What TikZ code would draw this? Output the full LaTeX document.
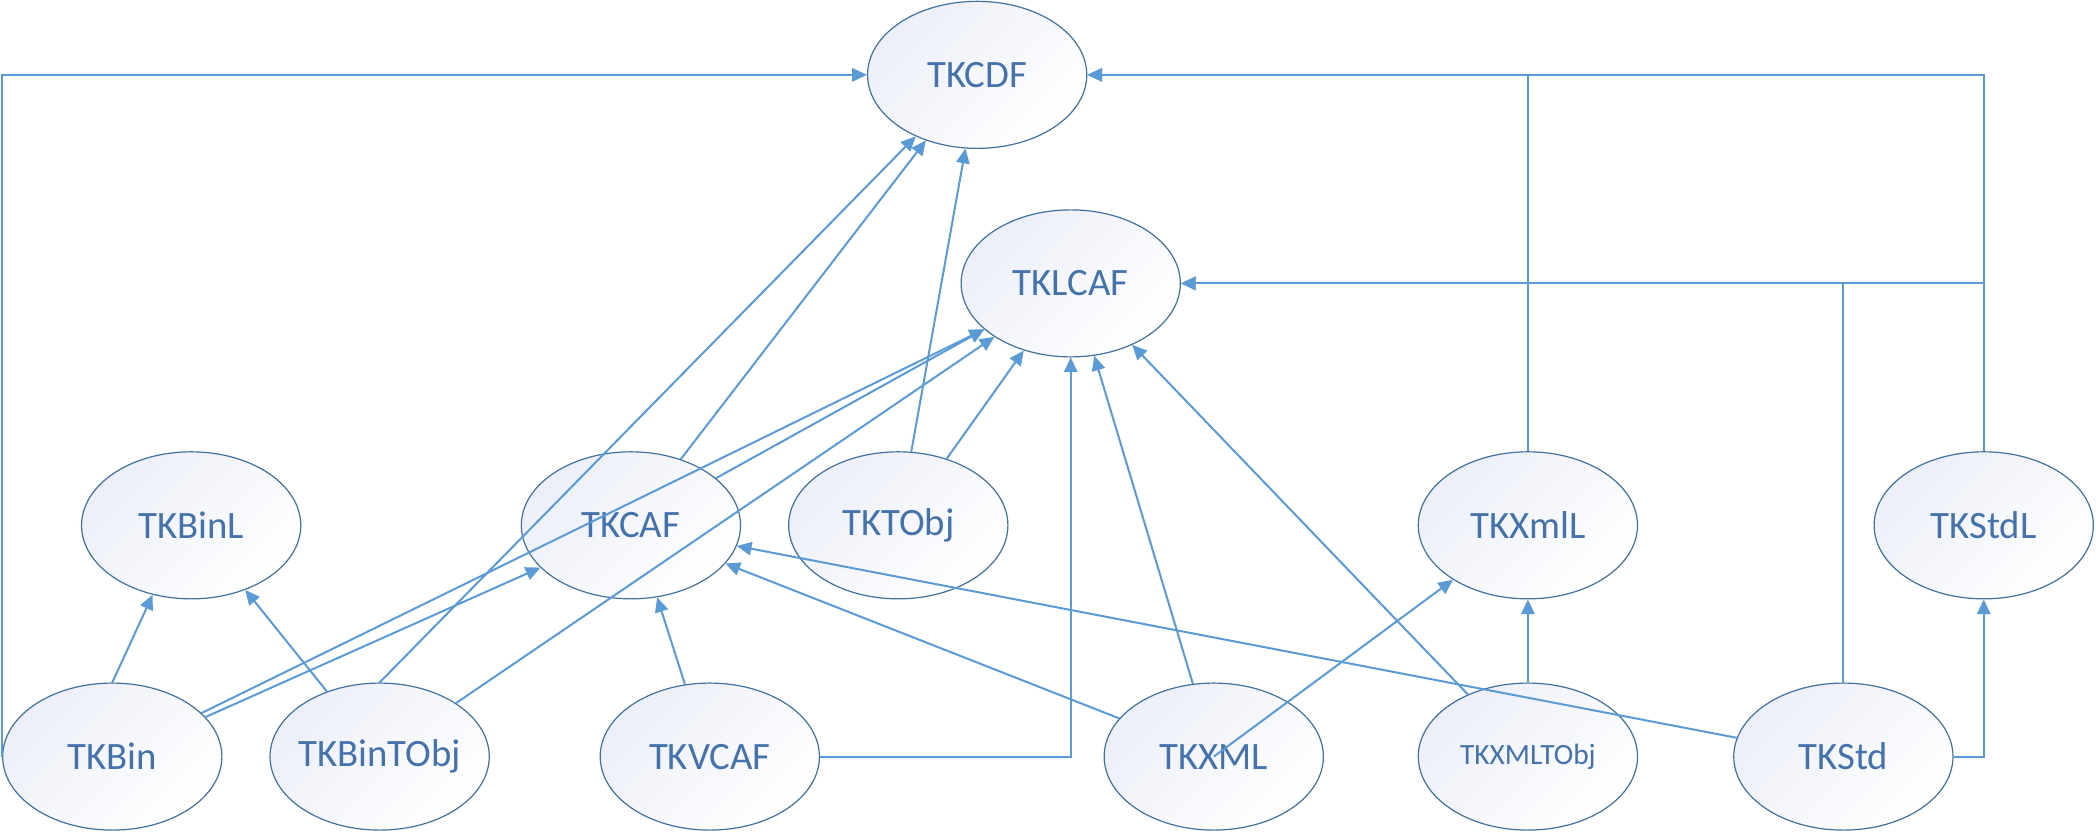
\documentclass[tikz,border=0pt]{standalone}
\usepackage{fontspec}
\setmainfont{Carlito}
\usetikzlibrary{shapes.geometric,arrows.meta}
\definecolor{tkline}{RGB}{91,155,213}
\definecolor{tkedge}{RGB}{65,113,156}
\definecolor{tktext}{RGB}{68,114,170}
\definecolor{tkshade}{RGB}{236,239,248}

\begin{document}
\begin{tikzpicture}[x=1pt,y=1pt,
  tk/.style={ellipse, draw=tkedge, line width=0.9pt, minimum width=164pt, minimum height=110pt,
    inner xsep=-15pt, inner ysep=0pt, top color=tkshade, bottom color=white, shading angle=45,
    text=tktext, font=\fontsize{29}{34}\selectfont},
  dep/.style={draw=tkline, line width=1.5pt, -{Triangle[length=11pt,width=10pt]}}]
\useasboundingbox (0,0) rectangle (1568,622);
% libraries on top
\node[tk] (cdf)  at (731,566) {TKCDF};
\node[tk] (lcaf) at (801,410) {TKLCAF};
% middle row
\node[tk] (binl) at (143,229)  {TKBinL};
\node[tk] (caf)  at (472,229)  {TKCAF};
\node[tk] (tobj) at (672,229)  {TKTObj};
\node[tk] (xmll) at (1143,229) {TKXmlL};
\node[tk] (stdl) at (1484,229) {TKStdL};
% bottom row
\node[tk] (bin)     at (84,56)   {TKBin};
\node[tk] (bintobj) at (284,56)  {TKBinTObj};
\node[tk] (vcaf)    at (531,56)  {TKVCAF};
\node[tk] (xml)     at (908,56)  {TKXML};
\node[tk, font=\fontsize{22}{26}\selectfont] (xmltobj) at (1143,56) {TKXMLTObj};
\node[tk] (std)     at (1379,56) {TKStd};
% dependencies
\draw[dep] (bin.west) |- (cdf.west);
\draw[dep] (bin.north) -- (binl.241);
\draw[dep] (bintobj.129) -- (binl.310);
\draw[dep] (bin.26) -- (lcaf.208);
\draw[dep] (bin.23) -- (caf.205);
\draw[dep] (bintobj.north) -- (cdf.225);
\draw[dep] (bintobj.35) -- (lcaf.215);
\draw[dep] (caf.53) -- (cdf.232);
\draw[dep] (caf.29) -- (lcaf.208);
\draw[dep] (tobj.80) -- (cdf.261);
\draw[dep] (tobj.54) -- (lcaf.235);
\draw[dep] (vcaf.109) -- (caf.290);
\draw[dep] (vcaf.east) -| (lcaf.south);
\draw[dep] (xml.158) -- (caf.338);
\draw[dep] (xml.106) -- (lcaf.288);
\draw[dep] (xml.center) -- (xmll.216);
\draw[dep] (xmltobj.134) -- (lcaf.315);
\draw[dep] (xmltobj.north) -- (xmll.south);
\draw[dep] (xmll.north) |- (cdf.east);
\draw[dep] (stdl.north) |- (cdf.east);
\draw[dep] (stdl.north) |- (lcaf.east);
\draw[dep] (std.north) |- (lcaf.east);
\draw[dep] (std.170) -- (caf.349);
\draw[dep] (std.east) -| (stdl.south);
\end{tikzpicture}
\end{document}
